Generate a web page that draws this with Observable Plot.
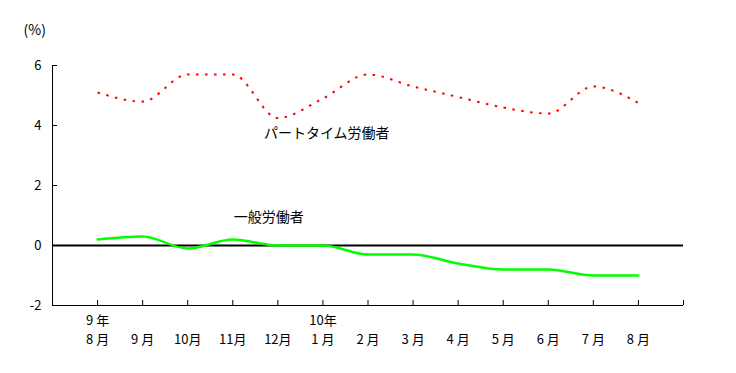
<!DOCTYPE html>
<html>
<head>
<meta charset="utf-8">
<script src="https://cdn.jsdelivr.net/npm/d3@7"></script>
<script src="https://cdn.jsdelivr.net/npm/@observablehq/plot@0.6"></script>
<style>
  html, body { margin: 0; padding: 0; background: #fff; }
  svg { display: block; }
</style>
</head>
<body>
<div id="chart"></div>
<script>
const months = ["8 月","9 月","10月","11月","12月","1 月","2 月","3 月","4 月","5 月","6 月","7 月","8 月"];
const years = ["9 年","","","","","10年","","","","","","",""];
const partTime = [5.1, 4.8, 5.7, 5.7, 4.25, 4.9, 5.7, 5.3, 4.95, 4.6, 4.4, 5.3, 4.75];
const general = [0.2, 0.3, -0.1, 0.2, 0.0, 0.0, -0.3, -0.3, -0.6, -0.8, -0.8, -1.0, -1.0];
const yTicks = [-2, 0, 2, 4, 6];
const xTickPos = [1,2,3,4,5,6,7,8,9,10,11,12,13,14];
const seriesLabels = [
  {text: "パートタイム労働者", x: 4.69, y: 3.73},
  {text: "一般労働者", x: 4.02, y: 0.93}
];
const unitLabel = "(%)";

const idx = months.map((m, i) => i + 1);
const ptData = partTime.map((v, i) => ({x: idx[i], y: v}));
const genData = general.map((v, i) => ({x: idx[i], y: v}));
const xlab = months.map((m, i) => ({x: idx[i], m, yr: years[i]}));

const font = "'Noto Sans CJK JP', 'DejaVu Sans', sans-serif";
const W = 736, H = 373, mL = 52, mR = 53, mT = 65, mB = 68;
const plotH = H - mT - mB, plotW = W - mL - mR;

const chart = Plot.plot({
  width: W, height: H,
  marginLeft: mL, marginRight: mR, marginTop: mT, marginBottom: mB,
  style: {fontFamily: font, fontSize: "13px", background: "#fff", color: "#000"},
  x: {domain: [0, 14], axis: null},
  y: {domain: [-2, 6], axis: null},
  marks: [
    Plot.ruleX([0], {y1: -2, y2: 6, stroke: "#000", strokeWidth: 1}),
    Plot.ruleY([-2], {x1: 0, x2: 14, stroke: "#000", strokeWidth: 1}),
    Plot.tickY(yTicks, {y: d => d, insetRight: plotW - 5, stroke: "#000"}),
    Plot.tickX(xTickPos, {x: d => d, insetTop: plotH - 5, stroke: "#000"}),
    Plot.ruleY([0], {x1: 0, x2: 14, stroke: "#000", strokeWidth: 2}),
    Plot.line(ptData, {x: "x", y: "y", curve: "monotone-x", stroke: "#ff0000", strokeWidth: 2, strokeDasharray: "2.5,6.5", strokeLinecap: "butt"}),
    Plot.line(genData, {x: "x", y: "y", curve: "monotone-x", stroke: "#00ff00", strokeWidth: 2.4}),
    Plot.text(yTicks, {y: d => d, text: d => String(d), frameAnchor: "left", dx: -11, textAnchor: "end", fontSize: 13, fill: "#000"}),
    Plot.text(xlab, {x: "x", text: "m", frameAnchor: "bottom", dy: 38, fontSize: 13, fill: "#000"}),
    Plot.text(xlab, {x: "x", text: "yr", frameAnchor: "bottom", dy: 19, fontSize: 13, fill: "#000"}),
    Plot.text(seriesLabels, {x: "x", y: "y", text: "text", textAnchor: "start", fontSize: 14, fill: "#000", style: "letter-spacing:0.7px"}),
    Plot.text([unitLabel], {text: d => d, frameAnchor: "top-left", dx: -29, dy: -40, textAnchor: "start", fontSize: 14, fill: "#000", style: "letter-spacing:3px"})
  ]
});
document.getElementById("chart").append(chart);
</script>
</body>
</html>
